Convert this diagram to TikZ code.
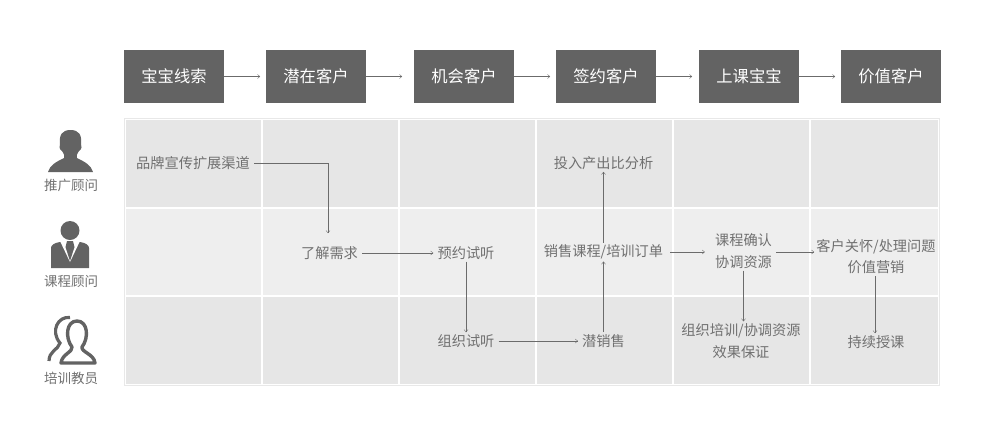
\documentclass[tikz,border=0pt]{standalone}
\usepackage{fontspec}
\setmainfont{Noto Sans CJK SC}
\usetikzlibrary{arrows.meta}
\definecolor{headgray}{HTML}{636363}
\definecolor{txtgray}{HTML}{707070}
\definecolor{rowdark}{HTML}{E6E6E6}
\definecolor{rowlight}{HTML}{EEEEEE}
\definecolor{framegray}{HTML}{E8E8E8}
\tikzset{
  stagebox/.style={fill=headgray,text=white,minimum width=100pt,minimum height=53pt,inner sep=0pt,font=\fontsize{16.3}{20}\selectfont},
  worktxt/.style={text=txtgray,align=center,inner xsep=4pt,inner ysep=2pt,font=\fontsize{14.2}{21.5}\selectfont},
  rolelabel/.style={text=txtgray,inner sep=0pt,font=\fontsize{13.5}{16}\selectfont},
  flow/.style={draw=black!58,line width=0.5pt,-{Straight Barb[length=2.5pt,width=4pt,line width=0.35pt]}},
}
\begin{document}
\begin{tikzpicture}[x=1pt,y=-1pt]
    \useasboundingbox (0,0) rectangle (1002,429);
    % grid behind the flow
    \draw[framegray,line width=1pt] (124.5,118.5) rectangle (939.5,385.5);
    \foreach \xa/\xb in {126/260.5,262.5/397.5,399.5/534.5,536.5/671.5,673.5/808.5,810.5/938}{
      \fill[rowdark] (\xa,120) rectangle (\xb,206.5);
      \fill[rowlight] (\xa,208.5) rectangle (\xb,294.5);
      \fill[rowdark] (\xa,296.5) rectangle (\xb,384);
    }
    % stages
    \node[stagebox] (s1) at (174,76.5) {宝宝线索};
    \node[stagebox] (s2) at (316,76.5) {潜在客户};
    \node[stagebox] (s3) at (464,76.5) {机会客户};
    \node[stagebox] (s4) at (606,76.5) {签约客户};
    \node[stagebox] (s5) at (749,76.5) {上课宝宝};
    \node[stagebox] (s6) at (891,76.5) {价值客户};
    \foreach \a in {s1,s2,s3,s4,s5}
      \draw[flow] (\a.east) -- ++(36,0);
    % roles
    \node[rolelabel] (r1) at (71,185) {推广顾问};
    \node[rolelabel] (r2) at (71,281) {课程顾问};
    \node[rolelabel] (r3) at (71,378) {培训教员};
    % icon one
    \fill[headgray] (48,172) .. controls (50,165) and (56,162) .. (64,158)
      .. controls (65,156) and (64,154) .. (62,151)
      .. controls (59,149) and (59,146) .. (60,144)
      .. controls (59,135) and (62,130) .. (70.5,130)
      .. controls (79,130) and (82,135) .. (81,144)
      .. controls (82,146) and (82,149) .. (79,151)
      .. controls (77,154) and (76,156) .. (77,158)
      .. controls (85,162) and (91,165) .. (93,172) -- cycle;
    % icon two
    \fill[headgray] (70,230.5) circle (9.5);
    \fill[headgray] (51,268) -- (51,248) .. controls (51,245) and (54,243) .. (60,242)
      -- (80,242) .. controls (86,243) and (89,245) .. (89,248) -- (89,268) -- cycle;
    \fill[white] (60,241) -- (70,262) -- (80,241) -- cycle;
    \fill[headgray] (67,241) -- (73,241) -- (74.5,247) -- (70,261) -- (65.5,247) -- cycle;
    % icon three
    \draw[headgray,line width=3.4pt,line join=round] (72,347)
      .. controls (65,338) and (66,321) .. (77,321)
      .. controls (88,321) and (89,338) .. (82,347)
      .. controls (81,352) and (94,354) .. (95,363) -- (61,363)
      .. controls (62,354) and (73,352) .. (72,347) -- cycle;
    \draw[headgray,line width=3.2pt] (70,317.5) .. controls (58,316) and (50,331) .. (60,343)
      .. controls (58,350) and (49,351) .. (49,361);
    % work items
    \node[worktxt] (brand) at (193,163) {品牌宣传扩展渠道};
    \node[worktxt] (needs) at (329.5,253) {了解需求};
    \node[worktxt] (trial) at (466,253) {预约试听};
    \node[worktxt] (orgtrial) at (466,341) {组织试听};
    \node[worktxt] (presell) at (603.5,341) {潜销售};
    \node[worktxt] (order) at (603.5,252) {销售课程/培训订单};
    \node[worktxt] (roi) at (603.5,163) {投入产出比分析};
    \node[worktxt] (confirm) at (743.5,251) {课程确认\\协调资源};
    \node[worktxt] (care) at (876,256.5) {客户关怀/处理问题\\价值营销};
    \node[worktxt] (train) at (741,341) {组织培训/协调资源\\效果保证};
    \node[worktxt] (teach) at (876,342) {持续授课};
    % flow
    \draw[flow,shorten >=11pt] (brand.east) -| ([xshift=-1.5pt]needs.north);
    \draw[flow] (needs) -- (trial);
    \draw[flow] (trial) -- (orgtrial);
    \draw[flow] (orgtrial) -- (orgtrial -| presell.west);
    \draw[flow] (presell) -- (order);
    \draw[flow] (order) -- (roi);
    \draw[flow,shorten <=3pt] (order.east) -- ([xshift=-6pt]confirm.west |- order);
    \draw[flow] (confirm.east |- order) -- ([xshift=2pt]care.west |- order);
    \draw[flow] (confirm) -- (confirm |- train.north);
    \draw[flow] ([xshift=-1pt]care.south) -- ([xshift=-1pt]teach.north);
\end{tikzpicture}
\end{document}
